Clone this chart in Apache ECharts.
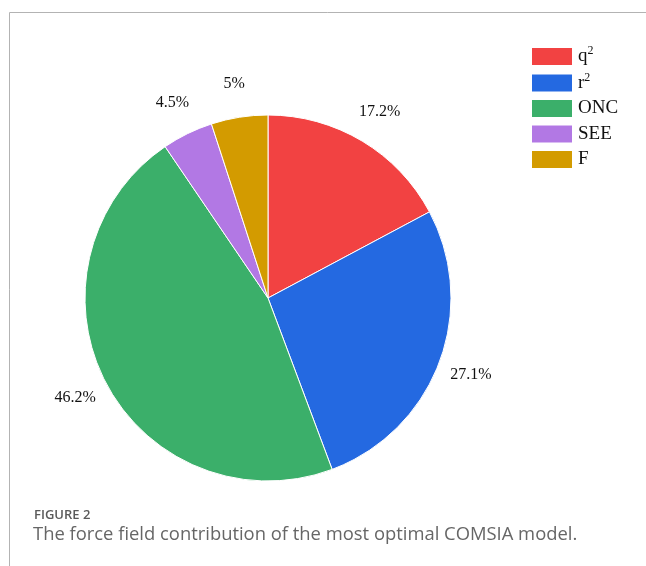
<!DOCTYPE html>
<html>
<head>
<meta charset="utf-8">
<script src="https://cdn.jsdelivr.net/npm/echarts@6/dist/echarts.min.js"></script>
<style>
  html, body { margin: 0; padding: 0; background: #fff; }
  #chart { width: 646px; height: 566px; }
</style>
</head>
<body>
<div id="chart"></div>
<script>
// Force field contributions (%) of the COMSIA model
const names = ['q^2', 'r^2', 'ONC', 'SEE', 'F'];
const values = [17.2, 27.1, 46.2, 4.5, 5];
const colors = ['#F24242', '#2469E1', '#3BAF6A', '#B278E4', '#D39B00'];
const labels = ['17.2%', '27.1%', '46.2%', '4.5%', '5%'];

const pieData = names.map((n, i) => ({ name: n, value: values[i], itemStyle: { color: colors[i] } }));
const labelData = names.map((n, i) => ({ name: n, value: values[i], label: { formatter: labels[i] } }));

const chart = echarts.init(document.getElementById('chart'), null, { renderer: 'canvas' });

const center = [268, 298];

chart.setOption({
  animation: false,
  backgroundColor: '#fff',
  legend: {
    orient: 'vertical',
    left: 525,
    top: 40,
    itemWidth: 42,
    itemHeight: 19,
    itemGap: 4.5,
    icon: 'rect',
    selectedMode: false,
    data: names,
    formatter: n => n.replace(/\^(\d)/, '{sup|$1}'),
    textStyle: {
      fontFamily: 'Liberation Serif',
      fontSize: 19,
      lineHeight: 19,
      color: '#111',
      rich: {
        sup: { fontFamily: 'Liberation Serif', fontSize: 12, lineHeight: 19, color: '#111', verticalAlign: 'bottom', padding: [0, 0, 9, 0] }
      }
    }
  },
  series: [
    {
      type: 'pie',
      center: center,
      radius: 183,
      startAngle: 90,
      clockwise: true,
      silent: true,
      data: pieData,
      label: { show: false },
      labelLine: { show: false },
      itemStyle: { borderColor: '#fff', borderWidth: 1 }
    },
    {
      // transparent ring that carries the percentage labels
      type: 'pie',
      center: center,
      radius: [196, 232],
      startAngle: 90,
      clockwise: true,
      silent: true,
      data: labelData,
      itemStyle: { color: 'rgba(0,0,0,0)' },
      labelLine: { show: false },
      label: {
        show: true,
        position: 'inside',
        fontFamily: 'Liberation Serif',
        fontSize: 16,
        color: '#111'
      }
    }
  ],
  graphic: [
    { type: 'line', silent: true, shape: { x1: 9.5, y1: 12.5, x2: 646, y2: 12.5 }, style: { stroke: '#b3b3b3', lineWidth: 1 } },
    { type: 'line', silent: true, shape: { x1: 9.5, y1: 12.5, x2: 9.5, y2: 566 }, style: { stroke: '#b3b3b3', lineWidth: 1 } },
    { type: 'text', silent: true, left: 34, top: 509, style: { text: 'FIGURE 2', font: '600 13px "Open Sans"', fill: '#5a5a5a' } },
    { type: 'text', silent: true, left: 33, top: 526, style: { text: 'The force field contribution of the most optimal COMSIA model.', font: '18.4px "Open Sans"', fill: '#666' } }
  ]
});
</script>
</body>
</html>
